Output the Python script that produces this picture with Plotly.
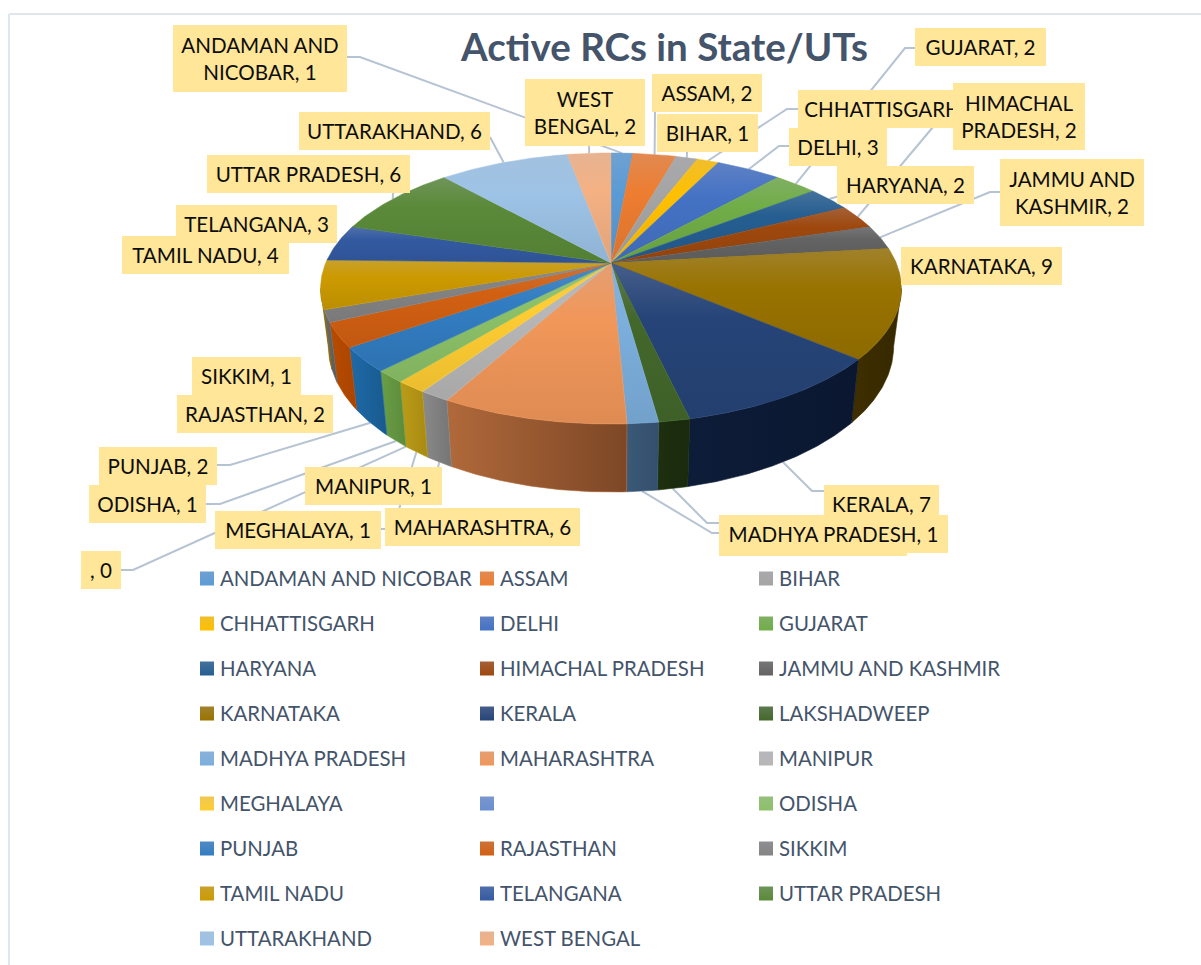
import math
import plotly.graph_objects as go

# ---------- data ----------
CATEGORIES = ["ANDAMAN AND NICOBAR", "ASSAM", "BIHAR", "CHHATTISGARH", "DELHI", "GUJARAT",
              "HARYANA", "HIMACHAL PRADESH", "JAMMU AND KASHMIR", "KARNATAKA", "KERALA",
              "LAKSHADWEEP", "MADHYA PRADESH", "MAHARASHTRA", "MANIPUR", "MEGHALAYA", "",
              "ODISHA", "PUNJAB", "RAJASTHAN", "SIKKIM", "TAMIL NADU", "TELANGANA",
              "UTTAR PRADESH", "UTTARAKHAND", "WEST BENGAL"]
VALUES = [1, 2, 1, 1, 3, 2, 2, 2, 2, 9, 7, 1, 1, 6, 1, 1, 0, 1, 2, 2, 1, 4, 3, 6, 6, 2]
TITLE = "Active RCs in State/UTs"

# ---------- styles ----------
COLORS = ["#5B9BD5", "#ED7D31", "#A5A5A5", "#FFC000", "#4472C4", "#70AD47", "#255E91", "#9E480E",
          "#636363", "#997300", "#264478", "#43682B", "#7CAFDD", "#F1975A", "#B7B7B7", "#FFCD33",
          "#698ED0", "#8CC168", "#327DC2", "#D26012", "#848484", "#CC9A00", "#335AA1", "#5A8A39",
          "#9DC3E6", "#F4B183"]
WALLS = {"KARNATAKA": ("#3f2f00", "#352800"), "KERALA": ("#0d1c38", "#0b1730"),
         "LAKSHADWEEP": ("#1e3010", "#1a2a0d"), "MADHYA PRADESH": ("#3a5a78", "#334f6c"),
         "MAHARASHTRA": ("#b0693a", "#7d4726"), "MANIPUR": ("#8a8a8a", "#757575"),
         "MEGHALAYA": ("#bb9c18", "#a88a12"), "ODISHA": ("#6a9e48", "#5c8b3a"),
         "PUNJAB": ("#1f6aa8", "#185a8e"), "RAJASTHAN": ("#b84c00", "#aa4400"),
         "SIKKIM": ("#6a6a6a", "#5a5a5a"), "TAMIL NADU": ("#8a6a00", "#7a5c00")}

# pie projection (perspective view of a circle)
CX, CY, A, B, P = 611.0, 263.0, 285.3, 130.7, 0.188
WALL_SCALE, WALL_DROP, WALL_STRETCH = 0.973, 56.0, 1.075
VIS_START = math.degrees(math.acos(-P))
VIS_END = 360 - VIS_START


def top_pt(deg):
    t = math.radians(deg)
    u, v = math.sin(t), math.cos(t)
    d = 1 + P * v
    return CX + A * u / d, CY - B * v / d


def bot_pt(deg):
    x, y = top_pt(deg)
    return CX + (x - CX) * WALL_SCALE, CY + WALL_DROP + WALL_STRETCH * (y - CY)


def arc(a0, a1):
    n = max(2, int(abs(a1 - a0) / 0.5) + 1)
    return [a0 + (a1 - a0) * i / (n - 1) for i in range(n)]


def hex2rgb(h):
    return tuple(int(h[i:i + 2], 16) for i in (1, 3, 5))


def mix(c, other, f):
    a, b = hex2rgb(c), hex2rgb(other)
    return "rgb(%d,%d,%d)" % tuple(round(a[i] * (1 - f) + b[i] * f) for i in range(3))


def top_light(c):
    return mix(c, "#b8b8c8", 0.22)


def low_shade(c):
    return mix(c, "#000000", 0.08)


TOTAL = sum(VALUES)
starts, ends = [], []
cum = 0
for val in VALUES:
    starts.append(cum / TOTAL * 360)
    cum += val
    ends.append(cum / TOTAL * 360)
mids = [(s + e) / 2 for s, e in zip(starts, ends)]
index = {c: i for i, c in enumerate(CATEGORIES)}

# ---------- labels (box: x0, x1, y0, y1 in pixels) ----------
LABEL_TEXT = {"ANDAMAN AND NICOBAR": "ANDAMAN AND<br>NICOBAR", "WEST BENGAL": "WEST<br>BENGAL",
              "HIMACHAL PRADESH": "HIMACHAL<br>PRADESH", "JAMMU AND KASHMIR": "JAMMU AND<br>KASHMIR"}
HIDDEN_TEXT = {"LAKSHADWEEP"}  # its box lies under MADHYA PRADESH, no text shows
LABEL_BOX = {"ANDAMAN AND NICOBAR": (173, 347, 24, 91), "ASSAM": (652, 762, 73, 111),
             "BIHAR": (657, 758, 113, 151), "CHHATTISGARH": (798, 989, 89, 127),
             "DELHI": (789, 887, 127, 165), "GUJARAT": (915, 1046, 27, 65),
             "HARYANA": (837, 974, 165, 203), "HIMACHAL PRADESH": (953, 1085, 82, 149),
             "JAMMU AND KASHMIR": (1000, 1144, 158, 225), "KARNATAKA": (901, 1062, 246, 284),
             "KERALA": (824, 939, 484, 522), "LAKSHADWEEP": (719, 907, 517, 555),
             "MADHYA PRADESH": (719, 948, 514, 552), "MAHARASHTRA": (385, 580, 507, 545),
             "MANIPUR": (305, 442, 466, 504), "MEGHALAYA": (215, 381, 510, 548),
             "": (81, 121, 550, 588), "ODISHA": (89, 206, 484, 522), "PUNJAB": (99, 217, 446, 484),
             "RAJASTHAN": (177, 333, 394, 432), "SIKKIM": (192, 301, 356, 394),
             "TAMIL NADU": (122, 289, 235, 273), "TELANGANA": (176, 337, 204, 242),
             "UTTAR PRADESH": (207, 410, 154, 192), "UTTARAKHAND": (299, 490, 111, 149),
             "WEST BENGAL": (525, 645, 78, 145)}

# leader lines: start / elbow in pixels, the end is taken from the pie geometry
LEADERS_TOP = {"ANDAMAN AND NICOBAR": [(347, 57), (360, 57)], "ASSAM": [(655, 111)], "BIHAR": [(687, 151)],
               "CHHATTISGARH": [(798, 109), (787, 109)], "DELHI": [(789, 146), (779, 146)],
               "GUJARAT": [(915, 48), (905, 48)], "HIMACHAL PRADESH": [(933, 127)],
               "JAMMU AND KASHMIR": [(1000, 192), (990, 192)], "UTTARAKHAND": [(490, 137)],
               "UTTAR PRADESH": [(393, 192)], "WEST BENGAL": [(589, 145)], "HARYANA": [(860, 190)]}
LEADERS_BOT = {"KERALA": [(824, 491), (812, 491)], "LAKSHADWEEP": [(719, 523), (707, 523)],
               "MADHYA PRADESH": [(719, 533), (712, 533)],
               "MANIPUR": [(438, 468)], "MEGHALAYA": [(381, 529), (393, 529)],
               "": [(121, 570), (133, 570)], "ODISHA": [(206, 504), (220, 504)],
               "PUNJAB": [(217, 465), (230, 465)]}

# ---------- figure ----------
fig = go.Figure()
LEADER = "#B6C3D3"
for table, fn in ((LEADERS_TOP, top_pt), (LEADERS_BOT, bot_pt)):
    for name, pts in table.items():
        ex, ey = fn(mids[index[name]])
        xs = [p[0] for p in pts] + [ex]
        ys = [p[1] for p in pts] + [ey]
        fig.add_trace(go.Scatter(x=xs, y=ys, mode="lines", line=dict(color=LEADER, width=2),
                                 hoverinfo="skip", showlegend=False))

# side walls
for i, name in enumerate(CATEGORIES):
    if VALUES[i] == 0 or name not in WALLS:
        continue
    a0, a1 = max(starts[i], VIS_START), min(ends[i], VIS_END)
    if a1 <= a0:
        continue
    upper = [top_pt(a) for a in arc(a0, a1)]
    lower = [bot_pt(a) for a in arc(a1, a0)]
    pts = upper + lower + upper[:1]
    left, right = WALLS[name]
    fig.add_trace(go.Scatter(
        x=[p[0] for p in pts], y=[p[1] for p in pts], mode="lines", fill="toself",
        line=dict(width=0.6, color=left), hoverinfo="skip", showlegend=False,
        fillgradient=dict(type="horizontal", colorscale=[[0, left], [1, right]])))

# top face
for i, name in enumerate(CATEGORIES):
    if VALUES[i] == 0:
        continue
    rim = [top_pt(a) for a in arc(starts[i], ends[i])]
    pts = [(CX, CY)] + rim + [(CX, CY)]
    c = COLORS[i]
    fig.add_trace(go.Scatter(
        x=[p[0] for p in pts], y=[p[1] for p in pts], mode="lines", fill="toself",
        line=dict(width=0.5, color=c), name=name or " ", hoverinfo="name", showlegend=False,
        fillgradient=dict(type="vertical",
                          colorscale=[[0, low_shade(c)], [0.65, c], [1, top_light(c)]])))

# legend grid
LEG_X = [207, 487, 766]
LEG_Y0, LEG_DY = 578.5, 45
annotations = []
for i, name in enumerate(CATEGORIES):
    r, col = divmod(i, 3)
    x, y = LEG_X[col], LEG_Y0 + r * LEG_DY
    c = COLORS[i]
    fig.add_trace(go.Scatter(x=[x], y=[y], mode="markers", showlegend=False, hoverinfo="skip",
                             marker=dict(symbol="square", size=14, color=top_light(c), line=dict(width=0),
                                         gradient=dict(type="vertical", color=c))))
    if name:
        annotations.append(dict(x=x + 11, y=y - 1, text=name, xanchor="left", yanchor="middle", showarrow=False,
                                font=dict(family="Lato", size=20.4, color="#44546A")))

# data labels, later series on top
for i, name in enumerate(CATEGORIES):
    x0, x1, y0, y1 = LABEL_BOX[name]
    text = LABEL_TEXT.get(name, name)
    label = " " if name in HIDDEN_TEXT else f"{text}, {VALUES[i]}"
    annotations.append(dict(x=(x0 + x1) / 2, y=(y0 + y1) / 2 + 0.5, xanchor="center", yanchor="middle",
                            width=x1 - x0, height=y1 - y0, showarrow=False, align="center", valign="middle",
                            bgcolor="#FFE699", borderpad=0, borderwidth=0,
                            text=label,
                            font=dict(family="Lato", size=20.6, color="#0d0d0d")))

annotations.append(dict(x=664, y=46, text=f"<b>{TITLE}</b>", showarrow=False, xanchor="center", yanchor="middle",
                        font=dict(family="Lato", size=38.5, color="#44546A")))

shapes = [dict(type="line", x0=9, x1=1201, y0=14, y1=14, line=dict(color="#E1E6EC", width=2), layer="below"),
          dict(type="line", x0=9, x1=9, y0=14, y1=965, line=dict(color="#E1E6EC", width=2), layer="below")]

fig.update_layout(width=1201, height=965, autosize=False, margin=dict(l=0, r=0, t=0, b=0),
                  paper_bgcolor="white", plot_bgcolor="white", showlegend=False,
                  annotations=annotations, shapes=shapes,
                  xaxis=dict(range=[0, 1201], visible=False, fixedrange=True),
                  yaxis=dict(range=[965, 0], visible=False, fixedrange=True))
fig.write_html("out.html", config=dict(displayModeBar=False),
               post_script="document.body.style.margin='0';document.body.style.overflow='hidden';")
